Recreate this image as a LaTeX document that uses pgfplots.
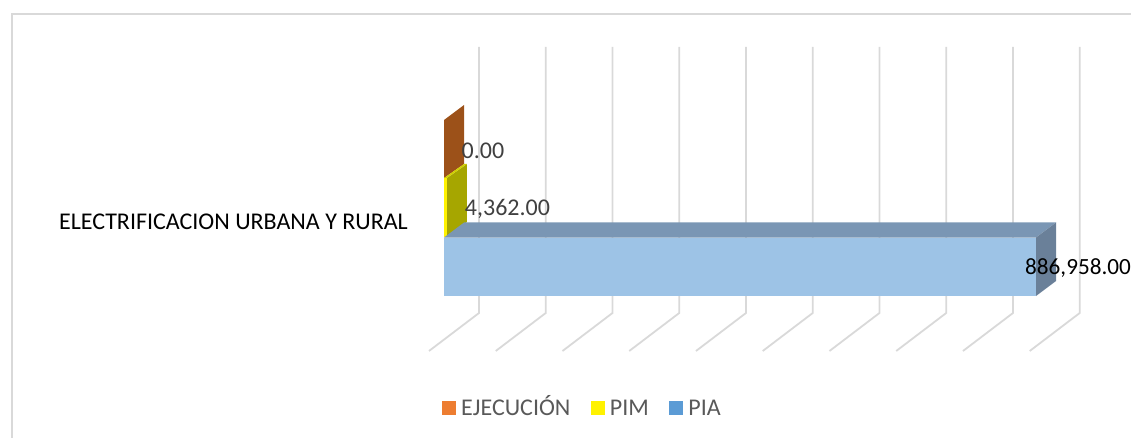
\documentclass[border=0pt]{standalone}
\usepackage{fontspec}
\setmainfont{Carlito}
\usepackage{pgfplots}
\pgfplotsset{compat=1.18}
\definecolor{gridc}{HTML}{D9D9D9}
\definecolor{frontpia}{HTML}{9DC3E6}
\definecolor{toppia}{HTML}{7A96B4}
\definecolor{sidepia}{HTML}{6A8099}
\definecolor{sidepim}{HTML}{A6A600}
\definecolor{toppim}{HTML}{D0D000}
\definecolor{sideeje}{HTML}{9C5119}
\definecolor{legeje}{HTML}{ED7D31}
\definecolor{legpia}{HTML}{5B9BD5}
\begin{document}
\begin{tikzpicture}
\clip (0,0) rectangle (1131pt,438pt);
\begin{axis}[
  scale only axis, width=1131pt, height=438pt,
  xmin=-665200, xmax=1029270, ymin=0, ymax=438, y dir=reverse,
  hide axis, clip=false, no markers, unbounded coords=jump,
  legend columns=3,
  legend cell align=left,
  legend image code/.code={\fill[draw=none,#1] (0pt,-7pt) rectangle (14pt,7pt);},
  legend style={draw=none, fill=none, at={(axis cs:-3000,408)}, anchor=west, inner xsep=0pt, inner ysep=0pt,
    font=\fontsize{24}{26}\selectfont, text=black!65,
    /tikz/every even column/.append style={column sep=15.5pt},
    nodes={inner xsep=5pt, inner ysep=0pt, text height=15.2pt, text depth=0pt}},
]
% chart frame
\addplot[forget plot, gridc, line width=1.8pt] coordinates {(-647220,438) (-647220,14) (1029270,14)};
% gridlines: back wall and floor, 0 to 900000
\addplot[forget plot, gridc, line width=1.8pt] coordinates {
 (52437,47) (52437,313) (-22473,351) (nan,nan)
 (152437,47) (152437,313) (77527,351) (nan,nan)
 (252437,47) (252437,313) (177527,351) (nan,nan)
 (352437,47) (352437,313) (277527,351) (nan,nan)
 (452437,47) (452437,313) (377527,351) (nan,nan)
 (552437,47) (552437,313) (477527,351) (nan,nan)
 (652437,47) (652437,313) (577527,351) (nan,nan)
 (752437,47) (752437,313) (677527,351) (nan,nan)
 (852437,47) (852437,313) (777527,351) (nan,nan)
 (952437,47) (952437,313) (877527,351)};
% EJECUCION = 0
\addplot[forget plot, fill=sideeje, draw=none] coordinates {(0,178) (0,120) (29964,105) (29964,164)} --cycle;
% PIM = 4362
\addplot[forget plot, fill=sidepim, draw=none] coordinates {(4362,237) (4362,178) (34326,164) (34326,222)} --cycle;
\addplot[forget plot, fill=toppim, draw=none] coordinates {(0,178) (4362,178) (34326,164) (29964,164)} --cycle;
\addplot[forget plot, fill=yellow, draw=none] coordinates {(0,178) (4362,178) (4362,237) (0,237)} --cycle;
% PIA = 886958
\addplot[forget plot, fill=toppia, draw=none] coordinates {(0,237.5) (886958,237.5) (916922,222.5) (29964,222.5)} --cycle;
\addplot[forget plot, fill=sidepia, draw=none] coordinates {(886958,237.5) (886958,296) (916922,281) (916922,222.5)} --cycle;
\addplot[forget plot, fill=frontpia, draw=none] coordinates {(0,237.5) (886958,237.5) (886958,296) (0,296)} --cycle;
% labels
\node[text=black!75, font=\fontsize{24}{26}\selectfont, anchor=center] at (axis cs:58400,151) {0.00};
\node[text=black!75, font=\fontsize{24}{26}\selectfont, anchor=center] at (axis cs:95100,209) {4,362.00};
\node[text=black, font=\fontsize{23.2}{26}\selectfont, anchor=west, inner sep=0pt] at (axis cs:870450,268) {886,958.00};
\node[text=black, font=\fontsize{24}{26}\selectfont, anchor=east, inner sep=0pt] at (axis cs:-53900,222) {ELECTRIFICACION URBANA Y RURAL};
% legend
\addlegendimage{fill=legeje}
\addlegendentry{EJECUCIÓN}
\addlegendimage{fill=yellow}
\addlegendentry{PIM}
\addlegendimage{fill=legpia}
\addlegendentry{PIA}
\end{axis}
\end{tikzpicture}
\end{document}
